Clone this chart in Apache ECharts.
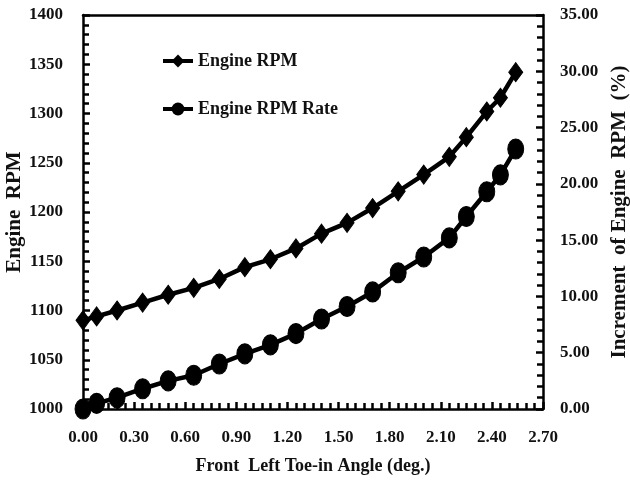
<!DOCTYPE html>
<html>
<head>
<meta charset="utf-8">
<script src="https://cdn.jsdelivr.net/npm/echarts@6/dist/echarts.min.js"></script>
<style>
html,body{margin:0;padding:0;background:#fff;}
#c{width:630px;height:495px;}
</style>
</head>
<body>
<div id="c"></div>
<script>
// Data
var toeAngle = [0, 0.08, 0.2, 0.35, 0.5, 0.65, 0.8, 0.95, 1.1, 1.25, 1.4, 1.55, 1.7, 1.85, 2.0, 2.15, 2.25, 2.37, 2.45, 2.54];
var engineRPM = [1090, 1094, 1100, 1108, 1116, 1123, 1132, 1144, 1152, 1163, 1178, 1189, 1204, 1221, 1238, 1256, 1276, 1302, 1316, 1342];
var rpmRate = [0, 0.5, 1.0, 1.8, 2.5, 3.0, 4.0, 4.9, 5.7, 6.7, 8.0, 9.1, 10.4, 12.1, 13.5, 15.2, 17.1, 19.3, 20.8, 23.1];
var seriesNames = ['Engine RPM', 'Engine RPM Rate'];
var xTitle = 'Front  Left Toe-in Angle (deg.)';
var yLeftTitle = 'Engine  RPM';
var yRightTitle = 'Increment  of Engine  RPM  (%)';

// Axis scales
var xMin = 0, xMax = 2.7, xStep = 0.3, xMinorSplit = 6;
var yLMin = 1000, yLMax = 1400, yLStep = 50, yLMinorSplit = 5;
var yRMin = 0, yRMax = 35, yRStep = 5, yRMinorSplit = 5;

function pairs(xs, ys) {
  var out = [];
  for (var i = 0; i < xs.length; i++) out.push([xs[i], ys[i]]);
  return out;
}

var FONT = "'Liberation Serif', 'Times New Roman', serif";
var chart = echarts.init(document.getElementById('c'), null, {renderer: 'canvas'});

function axisLine() { return {show: true, onZero: false, lineStyle: {color: '#000', width: 2.5}}; }
function tick() { return {show: true, inside: true, length: 7, lineStyle: {color: '#000', width: 2.5}}; }
function minor(n) { return {show: true, splitNumber: n, length: 6, lineStyle: {color: '#000', width: 2.5}}; }
var labelStyle = {color: '#111', fontFamily: FONT, fontWeight: 'bold', fontSize: 17};
var nameStyle = {color: '#111', fontFamily: FONT, fontWeight: 'bold', fontSize: 18};

chart.setOption({
  animation: false,
  backgroundColor: '#fff',
  grid: {left: 83, right: 87, top: 15, bottom: 86, show: false, containLabel: false, outerBoundsMode: 'none'},
  legend: {
    data: seriesNames,
    orient: 'vertical',
    left: 156,
    top: 47,
    itemWidth: 30,
    itemHeight: 16,
    itemGap: 30,
    lineStyle: {width: 4},
    textStyle: {color: '#111', fontFamily: FONT, fontWeight: 'bold', fontSize: 18}
  },
  xAxis: [{
    type: 'value',
    position: 'bottom',
    min: xMin, max: xMax, interval: xStep,
    axisLine: axisLine(),
    axisTick: tick(),
    minorTick: minor(xMinorSplit),
    splitLine: {show: false},
    axisLabel: Object.assign({show: true, margin: 20, formatter: function (v) { return v.toFixed(2); }}, labelStyle),
    name: xTitle,
    nameLocation: 'middle',
    nameGap: 48,
    nameMoveOverlap: false,
    nameTextStyle: nameStyle
  }, {
    type: 'value',
    position: 'top',
    min: xMin, max: xMax, interval: xStep,
    axisLine: axisLine(),
    axisTick: {show: false},
    axisLabel: {show: false},
    splitLine: {show: false}
  }],
  yAxis: [{
    type: 'value',
    min: yLMin, max: yLMax, interval: yLStep,
    position: 'left',
    axisLine: axisLine(),
    axisTick: tick(),
    minorTick: minor(yLMinorSplit),
    splitLine: {show: false},
    axisLabel: Object.assign({show: true, margin: 20, formatter: function (v) { return String(v); }}, labelStyle),
    name: yLeftTitle,
    nameLocation: 'middle',
    nameGap: 58,
    nameMoveOverlap: false,
    nameTextStyle: Object.assign({}, nameStyle, {fontSize: 21})
  }, {
    type: 'value',
    min: yRMin, max: yRMax, interval: yRStep,
    position: 'right',
    axisLine: axisLine(),
    axisTick: tick(),
    minorTick: minor(yRMinorSplit),
    splitLine: {show: false},
    axisLabel: Object.assign({show: true, margin: 17, formatter: function (v) { return v.toFixed(2); }}, labelStyle),
    name: yRightTitle,
    nameLocation: 'middle',
    nameGap: 66,
    nameMoveOverlap: false,
    nameTextStyle: Object.assign({}, nameStyle, {fontSize: 21})
  }],
  series: [{
    name: seriesNames[0],
    type: 'line',
    xAxisIndex: 0,
    yAxisIndex: 0,
    data: pairs(toeAngle, engineRPM),
    symbol: 'diamond',
    symbolSize: [14, 19],
    showAllSymbol: true,
    lineStyle: {color: '#000', width: 4.5},
    itemStyle: {color: '#000', borderColor: '#000'},
    z: 3
  }, {
    name: seriesNames[1],
    type: 'line',
    xAxisIndex: 0,
    yAxisIndex: 1,
    data: pairs(toeAngle, rpmRate),
    symbol: 'circle',
    symbolSize: [16, 20],
    showAllSymbol: true,
    lineStyle: {color: '#000', width: 4.5},
    itemStyle: {color: '#000', borderColor: '#000'},
    z: 3
  }]
});
</script>
</body>
</html>
